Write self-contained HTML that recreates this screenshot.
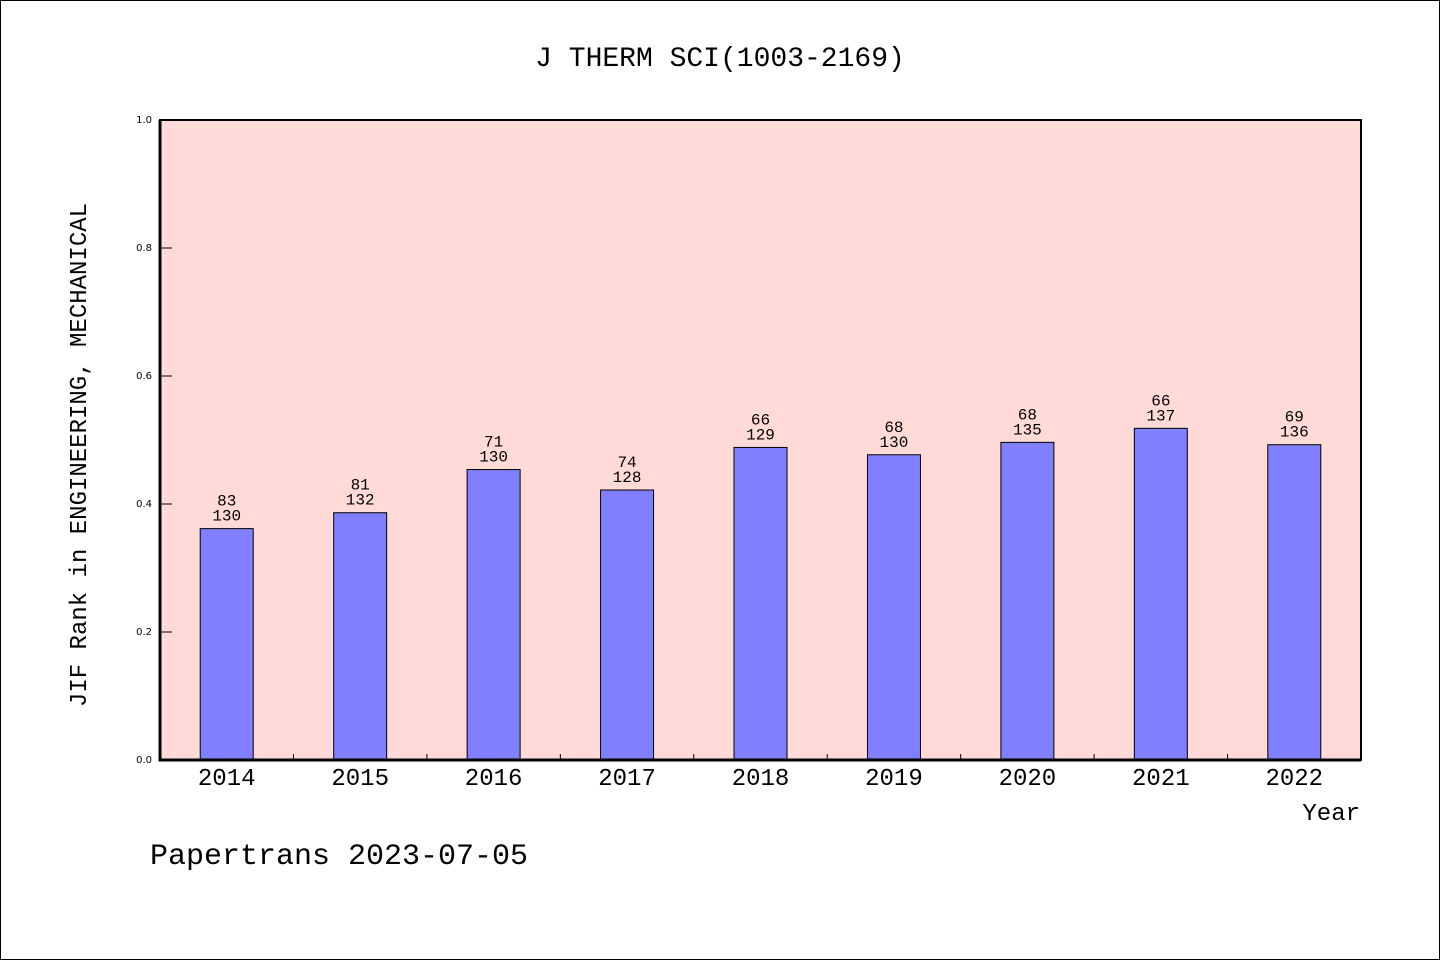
<!DOCTYPE html>
<html><head><meta charset="utf-8"><style>
html,body{margin:0;padding:0;background:#fff}
svg{display:block}
text{font-family:"WenQuanYi Zen Hei","Liberation Mono",monospace;fill:#000}
</style></head><body>
<svg id="chart" width="1440" height="960" xmlns="http://www.w3.org/2000/svg">
<rect x="0.5" y="0.5" width="1439" height="959" fill="#fff" stroke="#000"/>
<text x="720" y="66" text-anchor="middle" font-size="28">J THERM SCI(1003-2169)</text>
<rect x="160" y="120" width="1201" height="640" fill="#ffdad7"/>
<g id="bars"></g>
<g id="axes"></g>
<text transform="translate(86,455) rotate(-90)" text-anchor="middle" font-size="24">JIF Rank in ENGINEERING, MECHANICAL</text>
<text x="1360" y="820" text-anchor="end" font-size="24">Year</text>
<text x="150" y="864" font-size="30">Papertrans 2023-07-05</text>
</svg>
<script>
const years=["2014","2015","2016","2017","2018","2019","2020","2021","2022"];
const ranks=[83,81,71,74,66,68,68,66,69];
const totals=[130,132,130,128,129,130,135,137,136];
const yTicks=[0,0.2,0.4,0.6,0.8,1.0];
const NS="http://www.w3.org/2000/svg";
const X0=160,X1=1361,Y0=760,Y1=120;
const band=(X1-X0)/years.length;
const xc=i=>X0+band*(i+0.5);
const ys=v=>Y0-(Y0-Y1)*v;
function mk(t,a,p){const e=document.createElementNS(NS,t);for(const k in a)e.setAttribute(k,a[k]);p.appendChild(e);return e;}
const bg=document.getElementById('bars'),ax=document.getElementById('axes');
years.forEach((y,i)=>{
  const v=(totals[i]-ranks[i])/totals[i];
  const r=mk('rect',{x:xc(i)-26.5,y:ys(v),width:53,height:Y0-ys(v),fill:'#8080ff',stroke:'#000','stroke-width':1},bg);
  
  
  const t1=mk('text',{x:xc(i),y:ys(v)-23,'text-anchor':'middle','font-size':16},bg);t1.textContent=ranks[i];
  
  
  const t2=mk('text',{x:xc(i),y:ys(v)-8,'text-anchor':'middle','font-size':16},bg);t2.textContent=totals[i];
  
  
  const xl=mk('text',{x:xc(i),y:785,'text-anchor':'middle','font-size':24},ax);xl.textContent=y;
  
  
  if(i>0){const tk=mk('line',{x1:X0+band*i,x2:X0+band*i,y1:Y0,y2:Y0-6,stroke:'#000','stroke-width':1},ax);
  
  }
});
yTicks.forEach(v=>{
  const tk=mk('line',{x1:X0,x2:X0+12,y1:ys(v),y2:ys(v),stroke:'#000','stroke-width':1},ax);
  
  
  const tl=mk('text',{x:152,y:ys(v)+3,'text-anchor':'end','font-size':10,style:'font-family:"DejaVu Sans",sans-serif'},ax);tl.textContent=v.toFixed(1);
  
  
});
const fr=mk('rect',{x:X0,y:Y1,width:X1-X0,height:Y0-Y1,fill:'none',stroke:'#000','stroke-width':2},ax);


const la=mk('path',{d:`M${X0},${Y1} V${Y0} H${X1}`,fill:'none',stroke:'#000','stroke-width':3},ax);


</script>
</body></html>
